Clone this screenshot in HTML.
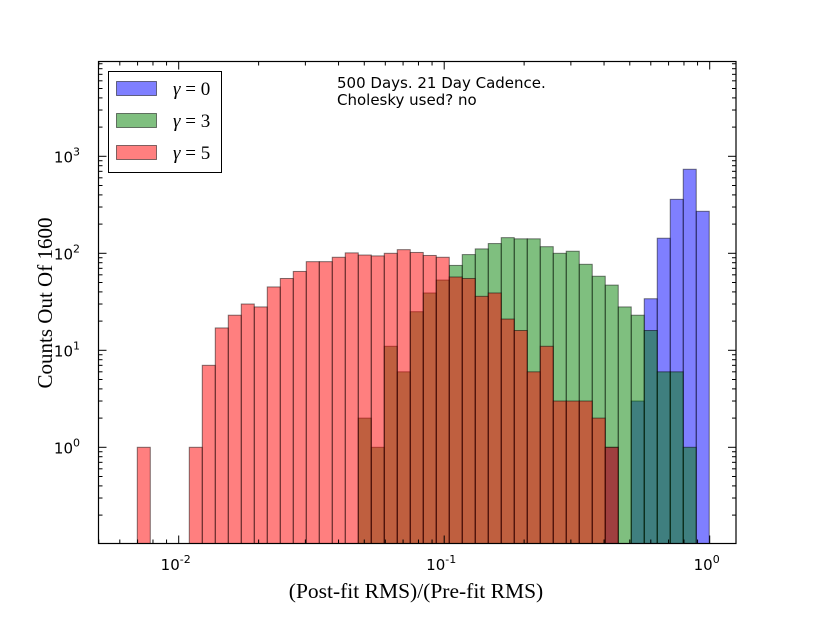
<!DOCTYPE html>
<html><head><meta charset="utf-8"><style>
body{margin:0;background:#fff;}
svg{display:block;}
text{font-family:"DejaVu Sans","Liberation Sans",sans-serif;}
</style></head><body>
<svg id="chart" width="817" height="617" viewBox="0 0 817 617" xmlns="http://www.w3.org/2000/svg">
<rect width="817" height="617" fill="#fff"/>
<g id="bars"></g>
<g id="axes"></g>
<rect x="98.5" y="61.5" width="637.5" height="482" fill="none" stroke="#000" stroke-width="1.2"/>
<g>
<rect x="108.5" y="71.5" width="113" height="101" fill="#fff" stroke="#000" stroke-width="1"/>
<rect x="116.5" y="81.5" width="40" height="14" fill="rgba(0,0,255,0.5)" stroke="rgba(0,0,0,0.5)"/>
<text x="173" y="95" style="font-family:'Liberation Serif',serif" font-size="19"><tspan font-style="italic">γ</tspan> = 0</text>
<rect x="116.5" y="113.5" width="40" height="14" fill="rgba(0,128,0,0.5)" stroke="rgba(0,0,0,0.5)"/>
<text x="173" y="127" style="font-family:'Liberation Serif',serif" font-size="19"><tspan font-style="italic">γ</tspan> = 3</text>
<rect x="116.5" y="145.5" width="40" height="14" fill="rgba(255,0,0,0.5)" stroke="rgba(0,0,0,0.5)"/>
<text x="173" y="159" style="font-family:'Liberation Serif',serif" font-size="19"><tspan font-style="italic">γ</tspan> = 5</text>
</g>
<text x="337" y="88" font-size="15">500 Days. 21 Day Cadence.</text>
<text x="337" y="105" font-size="15">Cholesky used? no</text>
<text x="416" y="598" text-anchor="middle" style="font-family:'Liberation Serif',serif" font-size="21.5">(Post-fit RMS)/(Pre-fit RMS)</text>
<text transform="translate(52,303) rotate(-90)" text-anchor="middle" style="font-family:'Liberation Serif',serif" font-size="21">Counts Out Of 1600</text>
</svg>
<script>
const binStartLog = -2.156;
const binWidthLog = 0.04896;
const blueCounts = [0,0,0,0,0,0,0,0,0,0,0,0,0,0,0,0,0,0,0,0,0,0,0,0,0,0,0,0,0,0,0,0,0,0,0,0,1,0,3,34,143,360,735,271];
const greenCounts = [0,0,0,0,0,0,0,0,0,0,0,0,0,0,0,0,0,2,1,11,6,25,39,53,75,97,111,126,145,141,141,117,100,105,77,58,47,28,23,16,6,6,1,0];
const redCounts = [1,0,0,0,1,7,17,23,30,28,45,55,65,82,82,91,101,96,94,100,109,102,95,91,57,55,36,39,21,16,6,11,3,3,3,2,1,0,0,0,0,0,0,0];
const xTickExps = [-2,-1,0];
const yTickExps = [0,1,2,3];

const NS="http://www.w3.org/2000/svg";
const X0=98.5,X1=736,Y0=61.5,Y1=543.5;
function xPos(lv){return 178.7+(lv+2)*265.5;}
function yPos(c){return 447.3-Math.log10(c)*97;}
function mk(tag,attrs,parent){const e=document.createElementNS(NS,tag);for(const k in attrs)e.setAttribute(k,attrs[k]);parent.appendChild(e);return e;}
const bars=document.getElementById('bars');
const series=[[blueCounts,'rgba(0,0,255,0.5)','blue'],[greenCounts,'rgba(0,128,0,0.5)','green'],[redCounts,'rgba(255,0,0,0.5)','red']];
series.forEach(([arr,col,nm])=>{
  arr.forEach((c,i)=>{
    if(c<=0)return;
    const xa=xPos(binStartLog+i*binWidthLog), xb=xPos(binStartLog+(i+1)*binWidthLog);
    const yt=Math.max(yPos(c),Y0);
    const r=mk('rect',{x:xa,y:yt,width:xb-xa,height:Y1-yt,fill:col,stroke:'rgba(0,0,0,0.5)','stroke-width':1},bars);
    
    
  });
});
const axes=document.getElementById('axes');
for(let d=-3;d<=0;d++){
  for(let m=1;m<=9;m++){
    const lv=d+Math.log10(m);const x=xPos(lv);
    if(x<X0||x>X1)continue;
    const L=m===1?8:4;
    mk('line',{x1:x,x2:x,y1:Y1,y2:Y1-L,stroke:'#000'},axes);
    mk('line',{x1:x,x2:x,y1:Y0,y2:Y0+L,stroke:'#000'},axes);
  }
}
xTickExps.forEach(e=>{
  const t=mk('text',{x:xPos(e)-3,y:570,'text-anchor':'middle','font-size':15},axes);
  
  
  t.innerHTML='10<tspan dy="-7" font-size="11">'+e+'</tspan>';
});
for(let d=-1;d<=3;d++){
  for(let m=1;m<=9;m++){
    const y=yPos(m*Math.pow(10,d));
    if(y<Y0||y>Y1)continue;
    const L=m===1?8:4;
    mk('line',{x1:X0,x2:X0+L,y1:y,y2:y,stroke:'#000'},axes);
    mk('line',{x1:X1,x2:X1-L,y1:y,y2:y,stroke:'#000'},axes);
  }
}
yTickExps.forEach(e=>{
  const t=mk('text',{x:80,y:yPos(Math.pow(10,e))+6,'text-anchor':'end','font-size':15},axes);
  
  
  t.innerHTML='10<tspan dy="-7" font-size="11">'+e+'</tspan>';
});
</script>
</body></html>
